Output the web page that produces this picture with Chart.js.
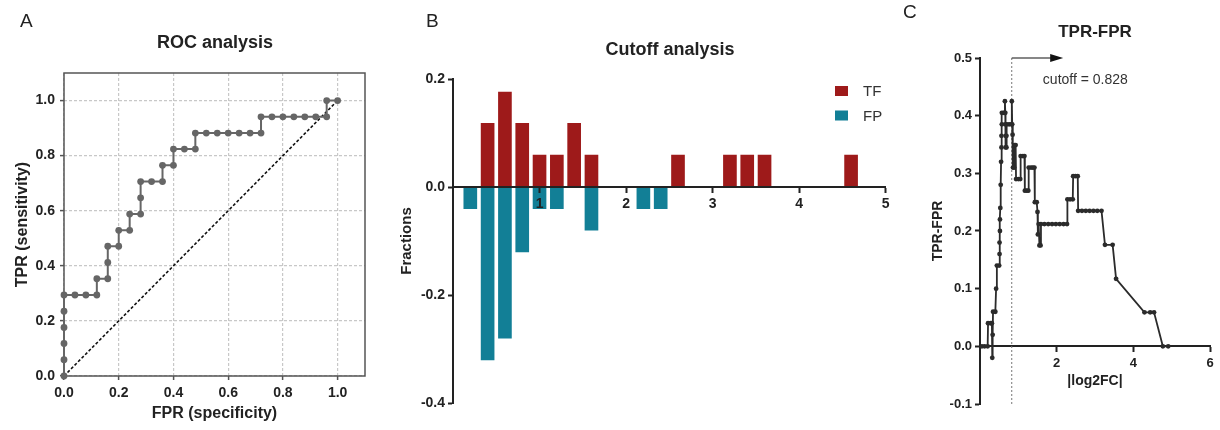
<!DOCTYPE html>
<html>
<head>
<meta charset="utf-8">
<script src="https://cdn.jsdelivr.net/npm/chart.js@4.4.1/dist/chart.umd.min.js"></script>
<style>
  body { margin: 0; background: #fff; width: 1220px; height: 430px; overflow: hidden; position: relative; }
  canvas { position: absolute; top: 0; }
</style>
</head>
<body>
<canvas id="rocChart" width="390" height="430" style="left:0"></canvas>
<canvas id="cutoffChart" width="505" height="430" style="left:395px"></canvas>
<canvas id="diffChart" width="320" height="430" style="left:900px"></canvas>
<script>
// A - ROC curve
const rocFpr = [0, 0, 0, 0, 0, 0, 0.04, 0.08, 0.12, 0.12, 0.16, 0.16, 0.16, 0.2, 0.2, 0.24, 0.24, 0.28, 0.28, 0.28,
  0.32, 0.36, 0.36, 0.4, 0.4, 0.44, 0.48, 0.48, 0.52, 0.56, 0.6, 0.64, 0.68, 0.72, 0.72, 0.76, 0.8, 0.84, 0.88, 0.92,
  0.96, 0.96, 1.0];
const rocTpr = [0, 0.059, 0.118, 0.176, 0.235, 0.294, 0.294, 0.294, 0.294, 0.353, 0.353, 0.412, 0.471, 0.471, 0.529,
  0.529, 0.588, 0.588, 0.647, 0.706, 0.706, 0.706, 0.765, 0.765, 0.824, 0.824, 0.824, 0.882, 0.882, 0.882, 0.882,
  0.882, 0.882, 0.882, 0.941, 0.941, 0.941, 0.941, 0.941, 0.941, 0.941, 1.0, 1.0];
const chanceLine = [0, 1];
const rocTicks = [0, 0.2, 0.4, 0.6, 0.8, 1.0];

// B - cutoff analysis (fractions per |log2FC| bin)
const tfBins = [0.4, 0.6, 0.8, 1.0, 1.2, 1.4, 1.6, 2.6, 3.2, 3.4, 3.6, 4.6];
const tfFrac = [0.118, 0.176, 0.118, 0.059, 0.059, 0.118, 0.059, 0.059, 0.059, 0.059, 0.059, 0.059];
const fpBins = [0.2, 0.4, 0.6, 0.8, 1.0, 1.2, 1.6, 2.2, 2.4];
const fpFrac = [-0.04, -0.32, -0.28, -0.12, -0.04, -0.04, -0.08, -0.04, -0.04];
const fracTicks = [-0.4, -0.2, 0, 0.2];
const binTicks = [1, 2, 3, 4, 5];

// C - TPR-FPR vs |log2FC|
const diffFc = [0.05, 0.12, 0.2, 0.21, 0.28, 0.31, 0.32, 0.33, 0.34, 0.4, 0.42, 0.44, 0.5, 0.51, 0.51, 0.52, 0.52,
  0.53, 0.54, 0.55, 0.56, 0.56, 0.57, 0.57, 0.62, 0.64, 0.65, 0.66, 0.66, 0.67, 0.67, 0.69, 0.69, 0.7, 0.76, 0.82,
  0.83, 0.84, 0.85, 0.86, 0.89, 0.9, 0.93, 0.94, 1.0, 1.05, 1.06, 1.12, 1.16, 1.17, 1.22, 1.26, 1.27, 1.33, 1.38,
  1.42, 1.43, 1.48, 1.5, 1.51, 1.53, 1.55, 1.58, 1.59, 1.68, 1.78, 1.88, 1.98, 2.08, 2.18, 2.27, 2.28, 2.35, 2.42,
  2.43, 2.49, 2.55, 2.56, 2.66, 2.76, 2.86, 2.96, 3.06, 3.17, 3.26, 3.46, 3.55, 4.29, 4.44, 4.54, 4.77, 4.91];
const diffVal = [0, 0, 0, 0.04, 0.04, 0.04, -0.02, 0.02, 0.06, 0.06, 0.1, 0.14, 0.14, 0.16, 0.18, 0.2, 0.22,
  0.24, 0.28, 0.32, 0.345, 0.365, 0.385, 0.405, 0.405, 0.405, 0.425, 0.405, 0.385, 0.365, 0.345, 0.345, 0.365, 0.385,
  0.385, 0.385, 0.425, 0.385, 0.367, 0.31, 0.31, 0.349, 0.349, 0.29, 0.29, 0.29, 0.33, 0.33, 0.33, 0.27, 0.27, 0.27,
  0.31, 0.31, 0.31, 0.31, 0.25, 0.25, 0.233, 0.194, 0.212, 0.175, 0.175, 0.212, 0.212, 0.212, 0.212, 0.212, 0.212,
  0.212, 0.212, 0.255, 0.255, 0.255, 0.295, 0.295, 0.295, 0.235, 0.235, 0.235, 0.235, 0.235, 0.235, 0.235, 0.176,
  0.176, 0.117, 0.059, 0.059, 0.059, 0, 0];
const diffTicks = [-0.1, 0, 0.1, 0.2, 0.3, 0.4, 0.5];
const fcTicks = [2, 4, 6];
const cutoff = 0.828;
const arrowEnd = 2.17;

const FONT = "'Liberation Sans', Arial, sans-serif";
Chart.defaults.font.family = FONT;
Chart.defaults.color = '#222';

const setTicks = (list) => (scale) => { scale.ticks = list.map(v => ({ value: v })); };
const fixed1 = v => Number(v).toFixed(1);

// plain text drawn at canvas positions (panel letters, titles)
const textPlugin = (id, items) => ({
    id,
    afterDraw(chart) {
        const ctx = chart.ctx;
        ctx.save();
        ctx.fillStyle = '#222';
        ctx.textBaseline = 'middle';
        items.forEach(t => {
            ctx.font = t.font;
            ctx.textAlign = t.align || 'center';
            ctx.fillText(t.text, t.x, t.y);
        });
        ctx.restore();
    }
});

// ---------- A ----------
const boxPlugin = {
    id: 'box',
    beforeDatasetsDraw(chart) {
        const { ctx, chartArea: a } = chart;
        ctx.save();
        ctx.strokeStyle = '#555';
        ctx.lineWidth = 1.5;
        ctx.strokeRect(a.left, a.top, a.right - a.left, a.bottom - a.top);
        ctx.restore();
    }
};

new Chart(document.getElementById('rocChart'), {
    type: 'scatter',
    data: {
        datasets: [{
            data: rocFpr.map((x, i) => ({ x, y: rocTpr[i] })),
            showLine: true,
            clip: false,
            borderColor: '#666',
            backgroundColor: '#666',
            borderWidth: 2,
            pointRadius: 3.4,
            pointBorderWidth: 0
        }, {
            data: chanceLine.map(v => ({ x: v, y: v })),
            showLine: true,
            borderColor: '#111',
            borderWidth: 1.6,
            borderDash: [3, 2],
            pointRadius: 0
        }]
    },
    options: {
        responsive: false,
        animation: false,
        devicePixelRatio: 1,
        layout: { padding: { top: 73, right: 25, left: 0, bottom: 0 } },
        plugins: { legend: { display: false }, tooltip: { enabled: false } },
        scales: {
            x: {
                type: 'linear', min: 0, max: 1.1,
                afterBuildTicks: setTicks(rocTicks),
                afterFit: s => { s.height = 54; },
                grid: { color: '#c8c8c8', lineWidth: 1.2, tickLength: 4, tickColor: '#555', tickWidth: 1.5 },
                border: { display: false, dash: [3, 2] },
                ticks: { callback: fixed1, font: { size: 14, weight: 'bold' }, padding: 5, color: '#222' },
                title: { display: true, text: 'FPR (specificity)', font: { size: 16, weight: 'bold' }, padding: { top: 0, bottom: 7 } }
            },
            y: {
                type: 'linear', min: 0, max: 1.1,
                afterBuildTicks: setTicks(rocTicks),
                afterFit: s => { s.width = 64; },
                grid: { color: '#c8c8c8', lineWidth: 1.2, tickLength: 4, tickColor: '#555', tickWidth: 1.5 },
                border: { display: false, dash: [3, 2] },
                ticks: { callback: fixed1, font: { size: 14, weight: 'bold' }, padding: 5, color: '#222' },
                title: { display: true, text: 'TPR (sensitivity)', font: { size: 16, weight: 'bold' }, padding: { top: 13, bottom: 0 } }
            }
        }
    },
    plugins: [boxPlugin, textPlugin('textA', [
        { text: 'A', x: 20, y: 22, font: '19px ' + FONT, align: 'left' },
        { text: 'ROC analysis', x: 215, y: 43, font: 'bold 18px ' + FONT }
    ])]
});

// ---------- B ----------
const legendPlugin = {
    id: 'legendB',
    afterDraw(chart) {
        const ctx = chart.ctx;
        ctx.save();
        ctx.textBaseline = 'middle';
        ctx.textAlign = 'left';
        ctx.font = '15px ' + FONT;
        chart.data.datasets.forEach((ds, i) => {
            const y = 91 + i * 24.5;
            ctx.fillStyle = ds.backgroundColor;
            ctx.fillRect(440, y - 5, 13, 10);
            ctx.fillStyle = '#333';
            ctx.fillText(ds.label, 468, y + 1);
        });
        ctx.restore();
    }
};

new Chart(document.getElementById('cutoffChart'), {
    type: 'bar',
    data: {
        datasets: [{
            label: 'TF',
            data: tfBins.map((x, i) => ({ x, y: tfFrac[i] })),
            backgroundColor: '#9e1a1a',
            barThickness: 13,
            grouped: false
        }, {
            label: 'FP',
            data: fpBins.map((x, i) => ({ x, y: fpFrac[i] })),
            backgroundColor: '#127f96',
            barThickness: 13,
            grouped: false
        }]
    },
    options: {
        responsive: false,
        animation: false,
        devicePixelRatio: 1,
        layout: { padding: { top: 79, right: 14.3, left: 0, bottom: 27 } },
        plugins: { legend: { display: false }, tooltip: { enabled: false } },
        scales: {
            x: {
                type: 'linear', min: 0, max: 5,
                offset: false,
                position: { y: 0 },
                afterBuildTicks: setTicks(binTicks),
                grid: { drawOnChartArea: false, offset: false, tickLength: 5, tickColor: '#222', tickWidth: 2, z: 1 },
                border: { display: true, color: '#222', width: 2, z: 1 },
                ticks: { autoSkip: false, font: { size: 14, weight: 'bold' }, padding: 4, color: '#222', z: 1 }
            },
            y: {
                type: 'linear', min: -0.4, max: 0.2,
                afterBuildTicks: setTicks(fracTicks),
                afterFit: s => { s.width = 58; },
                grid: { drawOnChartArea: false, tickLength: 5, tickColor: '#222', tickWidth: 2 },
                border: { display: true, color: '#222', width: 2 },
                ticks: { callback: fixed1, font: { size: 14, weight: 'bold' }, padding: 3, color: '#222' },
                title: { display: true, text: 'Fractions', font: { size: 15, weight: 'bold' }, padding: { top: 3, bottom: 0 } }
            }
        }
    },
    plugins: [legendPlugin, textPlugin('textB', [
        { text: 'B', x: 31, y: 22, font: '19px ' + FONT, align: 'left' },
        { text: 'Cutoff analysis', x: 275, y: 50, font: 'bold 18px ' + FONT }
    ])]
});

// ---------- C ----------
const cutoffPlugin = {
    id: 'cutoffMark',
    beforeDatasetsDraw(chart) {
        const { ctx, scales: { x, y } } = chart;
        const cx = x.getPixelForValue(cutoff);
        const top = y.getPixelForValue(y.max);
        ctx.save();
        ctx.strokeStyle = '#777';
        ctx.lineWidth = 1;
        ctx.setLineDash([2, 2]);
        ctx.beginPath();
        ctx.moveTo(cx, y.getPixelForValue(y.min));
        ctx.lineTo(cx, top);
        ctx.stroke();
        ctx.setLineDash([]);
        ctx.strokeStyle = '#111';
        ctx.fillStyle = '#111';
        ctx.lineWidth = 1.2;
        const ax = x.getPixelForValue(arrowEnd);
        ctx.beginPath();
        ctx.moveTo(cx, top);
        ctx.lineTo(ax - 10, top);
        ctx.stroke();
        ctx.beginPath();
        ctx.moveTo(ax, top);
        ctx.lineTo(ax - 13, top - 4);
        ctx.lineTo(ax - 13, top + 4);
        ctx.closePath();
        ctx.fill();
        ctx.font = '14px ' + FONT;
        ctx.fillStyle = '#333';
        ctx.textAlign = 'left';
        ctx.textBaseline = 'middle';
        ctx.fillText('cutoff = ' + cutoff, x.getPixelForValue(1.64), y.getPixelForValue(0.462));
        ctx.restore();
    }
};

new Chart(document.getElementById('diffChart'), {
    type: 'scatter',
    data: {
        datasets: [{
            data: diffFc.map((x, i) => ({ x, y: diffVal[i] })),
            showLine: true,
            clip: false,
            borderColor: '#2b2b2b',
            backgroundColor: '#2b2b2b',
            borderWidth: 1.8,
            pointRadius: 2.4,
            pointBorderWidth: 0
        }]
    },
    options: {
        responsive: false,
        animation: false,
        devicePixelRatio: 1,
        layout: { padding: { top: 58, right: 10, left: 0, bottom: 26 } },
        plugins: { legend: { display: false }, tooltip: { enabled: false } },
        scales: {
            x: {
                type: 'linear', min: 0, max: 6,
                position: { y: 0 },
                afterBuildTicks: setTicks(fcTicks),
                grid: { drawOnChartArea: false, tickLength: 5, tickColor: '#222', tickWidth: 2 },
                border: { display: true, color: '#222', width: 2 },
                ticks: { font: { size: 13, weight: 'bold' }, padding: 4, color: '#222' }
            },
            y: {
                type: 'linear', min: -0.1, max: 0.5,
                afterBuildTicks: setTicks(diffTicks),
                afterFit: s => { s.width = 80; },
                grid: { drawOnChartArea: false, tickLength: 5, tickColor: '#222', tickWidth: 2 },
                border: { display: true, color: '#222', width: 2 },
                ticks: { callback: fixed1, font: { size: 13, weight: 'bold' }, padding: 3, color: '#222' },
                title: { display: true, text: 'TPR-FPR', font: { size: 14, weight: 'bold' }, padding: { top: 30, bottom: 0 } }
            }
        }
    },
    plugins: [cutoffPlugin, textPlugin('textC', [
        { text: 'C', x: 3, y: 13, font: '19px ' + FONT, align: 'left' },
        { text: 'TPR-FPR', x: 195, y: 32, font: 'bold 17px ' + FONT },
        { text: '|log2FC|', x: 195, y: 381, font: 'bold 14px ' + FONT }
    ])]
});
</script>
</body>
</html>
